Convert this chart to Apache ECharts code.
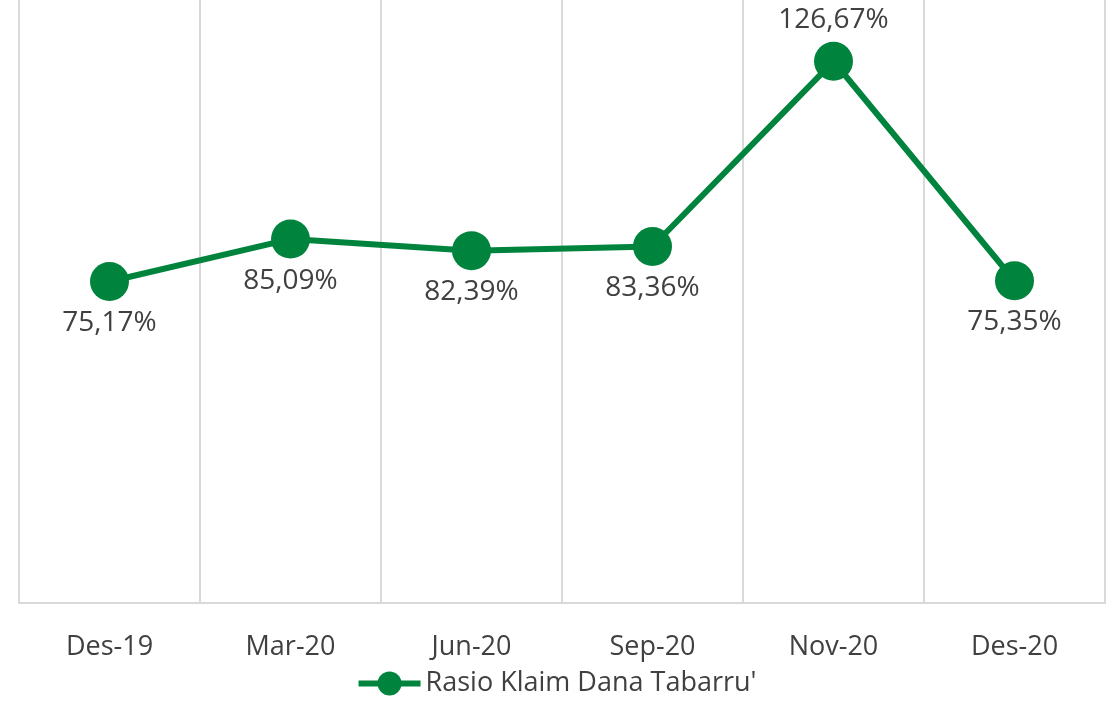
<!DOCTYPE html>
<html>
<head>
<meta charset="utf-8">
<script src="https://cdn.jsdelivr.net/npm/echarts@6/dist/echarts.min.js"></script>
<style>
  html, body { margin: 0; padding: 0; background: #fff; }
  #chart { width: 1112px; height: 708px; }
</style>
</head>
<body>
<div id="chart"></div>
<script>
// data
const categories = ['Des-19', 'Mar-20', 'Jun-20', 'Sep-20', 'Nov-20', 'Des-20']
const rasioKlaim = [75.17, 85.09, 82.39, 83.36, 126.67, 75.35]
const labelAbove = [false, false, false, false, true, false]

const green = '#00843D'
const textColor = '#404040'
const font = 'Open Sans'

const seriesData = rasioKlaim.map((v, i) => ({
  value: v,
  label: { position: labelAbove[i] ? 'top' : 'bottom' }
}))

const chart = echarts.init(document.getElementById('chart'))
chart.setOption({
  animation: false,
  grid: { left: 19, right: 7, top: 0, bottom: 105, containLabel: false },
  legend: {
    bottom: 6,
    left: 'center',
    itemWidth: 62,
    itemHeight: 30,
    itemGap: 4,
    lineStyle: { width: 6 },
    textStyle: { fontFamily: font, fontSize: 27, color: textColor },
    data: ["Rasio Klaim Dana Tabarru'"]
  },
  xAxis: {
    type: 'category',
    data: categories,
    boundaryGap: true,
    axisLine: { show: true, lineStyle: { color: '#d9d9d9', width: 2 } },
    axisTick: { show: false },
    splitLine: { show: true, lineStyle: { color: '#d9d9d9', width: 2 } },
    axisLabel: { fontFamily: font, fontSize: 27, color: textColor, margin: 31 }
  },
  yAxis: {
    type: 'value',
    min: 0,
    max: 141,
    show: false,
    splitLine: { show: false }
  },
  series: [{
    name: "Rasio Klaim Dana Tabarru'",
    type: 'line',
    data: seriesData,
    symbol: 'circle',
    symbolSize: 39,
    itemStyle: { color: green },
    lineStyle: { color: green, width: 6 },
    label: {
      show: true,
      distance: 8,
      fontFamily: font,
      fontSize: 28,
      color: textColor,
      formatter: p => p.value.toFixed(2).replace('.', ',') + '%'
    }
  }]
})
</script>
</body>
</html>
